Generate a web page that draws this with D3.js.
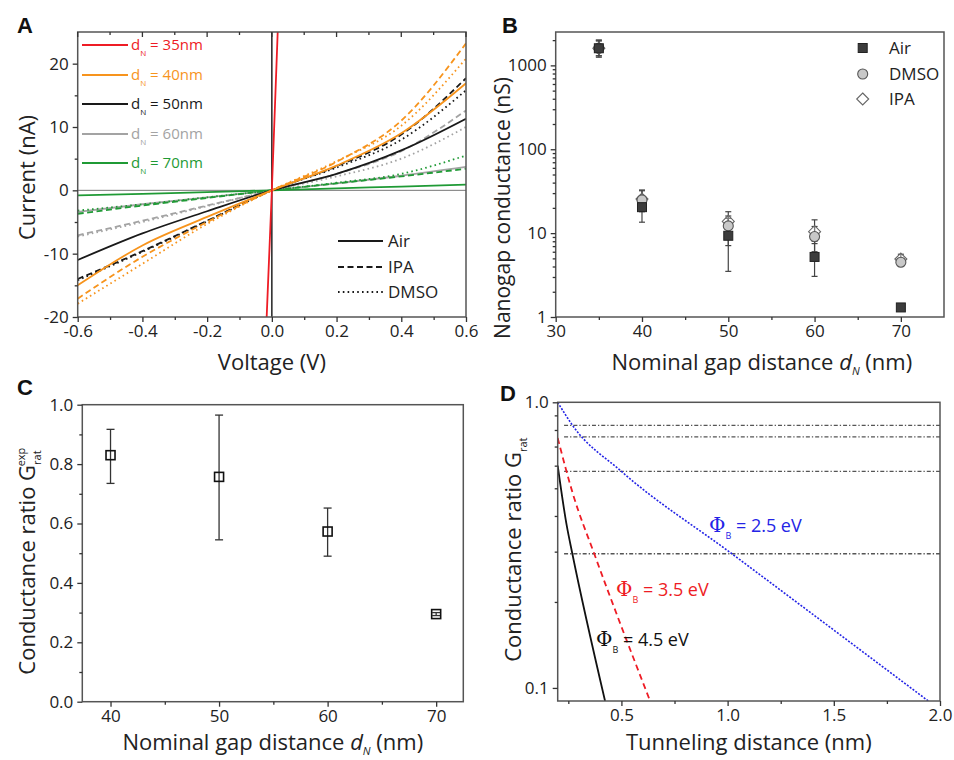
<!DOCTYPE html>
<html><head><meta charset="utf-8">
<script src="https://cdn.jsdelivr.net/npm/d3@7"></script>
<style>
body{margin:0;background:#fff;}
svg{font-family:"Open Sans",sans-serif;}
</style></head>
<body><svg id="c" width="954" height="760"></svg>
<script>
// ---------- Panel A data ----------
const voltages = [-0.6, -0.4, -0.2, 0, 0.2, 0.4, 0.6];
const voltages35 = [-0.6, 0, 0.6];
const iv35Air  = [-750, 0, 830];
const iv40Air  = [-15.0, -8.7, -4.2, 0, 3.9, 9.0, 16.9];
const iv40IPA  = [-17.1, -10.5, -5.0, 0, 4.5, 11.0, 23.2];
const iv40DMSO = [-17.9, -11.6, -5.3, 0, 4.6, 10.2, 20.8];
const iv50Air  = [-11.0, -6.8, -3.3, 0, 2.6, 6.3, 11.3];
const iv50IPA  = [-14.0, -9.6, -4.8, 0, 3.8, 8.8, 17.7];
const iv50DMSO = [-14.2, -9.7, -4.9, 0, 3.6, 8.0, 15.8];
const iv60Air  = [-3.4, -2.2, -1.1, 0, 1.1, 2.3, 3.7];
const iv60IPA  = [-7.1, -4.8, -2.4, 0, 2.6, 6.2, 12.6];
const iv60DMSO = [-7.3, -5.0, -2.5, 0, 2.2, 5.0, 10.0];
const iv70Air  = [-0.8, -0.55, -0.27, 0, 0.3, 0.6, 0.9];
const iv70IPA  = [-3.7, -2.4, -1.2, 0, 1.1, 2.2, 3.4];
const iv70DMSO = [-3.2, -2.2, -1.1, 0, 1.2, 2.6, 5.5];
const gapLabels = ["35nm", "40nm", "50nm", "60nm", "70nm"];
const mediumLabels = ["Air", "IPA", "DMSO"];

// ---------- Panel B data ----------
const gapB = [35, 40, 50, 60, 70];
const gAir  = [1600, 20.4, 9.3, 5.2, 1.3];
const gAirLo = [1250, 13.5, 3.5, 3.05, 1.2];
const gAirHi = [2000, 28, 15, 8, 1.4];
const gDMSO  = [1600, 24.9, 12.2, 9.1, 4.5];
const gDMSOLo = [1300, 18, 7.1, 6, 4.1];
const gDMSOHi = [1950, 32, 16, 12, 5.0];
const gIPA  = [1600, 25.5, 13.8, 10.4, 4.9];
const gIPALo = [1300, 20, 9, 7.5, 4.3];
const gIPAHi = [2000, 32.7, 18, 14.4, 5.6];
const legendB = ["Air", "DMSO", "IPA"];

// ---------- Panel C data ----------
const gapC = [40, 50, 60, 70];
const ratio = [0.83, 0.757, 0.573, 0.295];
const ratioLo = [0.735, 0.545, 0.49, 0.29];
const ratioHi = [0.917, 0.965, 0.652, 0.30];

// ---------- Panel D data ----------
const dBlue = [0.2, 0.27, 0.5, 1.02, 1.945];
const gBlue = [1.0, 0.83, 0.573, 0.295, 0.09];
const dRed = [0.2, 0.273, 0.372, 0.635];
const gRed = [0.75, 0.474, 0.295, 0.09];
const dBlack = [0.2, 0.242, 0.269, 0.423];
const gBlack = [0.60, 0.372, 0.295, 0.09];
const barrierLabels = ["2.5 eV", "3.5 eV", "4.5 eV"];

// ---------- helpers ----------
const svg = d3.select("#c");
const AX = "#333", FR = "#555";
const TICK_FS = 17, TITLE_FS = 22;
const fmtH = f => v => d3.format(f)(v).replace("\u2212", "-");

function frame(g, L, R, T, B) {
  g.append("rect").attr("x", L).attr("y", T).attr("width", R - L).attr("height", B - T)
    .attr("fill", "none").attr("stroke", FR).attr("stroke-width", 1.5);
}
function styleAxis(sel) {
  sel.select(".domain").remove();
  sel.selectAll("line").attr("stroke", AX).attr("stroke-width", 1.3);
  sel.selectAll("text").attr("font-size", TICK_FS).attr("fill", "#222").attr("font-family", "Open Sans");
}
function xAxes(g, x, B, major, minor, fmt) {
  const a = g.append("g").attr("transform", `translate(0,${B})`)
    .call(d3.axisBottom(x).tickValues(major).tickSize(5).tickPadding(3).tickFormat(fmt));
  styleAxis(a);
  const m = g.append("g").attr("transform", `translate(0,${B})`)
    .call(d3.axisBottom(x).tickValues(minor).tickSize(3).tickFormat(""));
  styleAxis(m);
}
function yAxes(g, y, L, major, minor, fmt) {
  const a = g.append("g").attr("transform", `translate(${L},0)`)
    .call(d3.axisLeft(y).tickValues(major).tickSize(5).tickPadding(4).tickFormat(fmt));
  styleAxis(a);
  const m = g.append("g").attr("transform", `translate(${L},0)`)
    .call(d3.axisLeft(y).tickValues(minor).tickSize(3).tickFormat(""));
  styleAxis(m);
}
function panelLetter(t, x, y) {
  svg.append("text").attr("x", x).attr("y", y).text(t).attr("font-size", 22)
    .attr("font-weight", "bold").attr("font-family", "Arial, Liberation Sans").attr("fill", "#111");
}
function title(g, x, y, txt, rotate, fs) {
  return g.append("text").attr("transform", rotate ? `translate(${x},${y}) rotate(-90)` : `translate(${x},${y})`)
    .attr("text-anchor", "middle").attr("font-size", fs || TITLE_FS).attr("fill", "#222").text(txt);
}
function gapTitle(g, x, y) {
  const xt = g.append("text").attr("x", x).attr("y", y).attr("text-anchor", "middle")
    .attr("font-size", TITLE_FS).attr("fill", "#222");
  xt.append("tspan").text("Nominal gap distance ");
  xt.append("tspan").text("d").attr("font-style", "italic");
  xt.append("tspan").text("N").attr("font-style", "italic").attr("font-size", 11).attr("dy", 5);
  xt.append("tspan").text(" (nm)").attr("dy", -5);
}

// =================== Panel A ===================
{
  const L = 77.7, R = 466, T = 32, B = 317;
  const x = d3.scaleLinear().domain([-0.6, 0.6]).range([L, R]);
  const y = d3.scaleLinear().domain([-20, 25]).range([B, T]);
  const g = svg.append("g");
  g.append("clipPath").attr("id", "clipA").append("rect")
    .attr("x", L).attr("y", T).attr("width", R - L).attr("height", B - T);
  const p = g.append("g").attr("clip-path", "url(#clipA)");
  p.append("line").attr("x1", L).attr("x2", R).attr("y1", y(0)).attr("y2", y(0))
    .attr("stroke", "#777").attr("stroke-width", 1);
  p.append("line").attr("x1", x(0)).attr("x2", x(0)).attr("y1", T).attr("y2", B)
    .attr("stroke", "#222").attr("stroke-width", 1.5);
  const colors = { "35": "#ee1c25", "40": "#f7941d", "50": "#1a1a1a", "60": "#a3a3a3", "70": "#1f9a35" };
  const dash = { Air: null, IPA: "6,3.5", DMSO: "1.6,3.2" };
  const line = d3.line().x(d => x(d[0])).y(d => y(d[1])).curve(d3.curveMonotoneX);
  const series = [
    ["60", "IPA", iv60IPA], ["60", "DMSO", iv60DMSO], ["60", "Air", iv60Air],
    ["70", "IPA", iv70IPA], ["70", "DMSO", iv70DMSO], ["70", "Air", iv70Air],
    ["50", "IPA", iv50IPA], ["50", "DMSO", iv50DMSO], ["50", "Air", iv50Air],
    ["40", "IPA", iv40IPA], ["40", "DMSO", iv40DMSO], ["40", "Air", iv40Air]
  ];
  series.forEach(([gap, med, vals]) => {
    p.append("path").attr("d", line(voltages.map((v, i) => [v, vals[i]])))
      .attr("fill", "none").attr("stroke", colors[gap]).attr("stroke-width", 1.8)
      .attr("stroke-dasharray", dash[med]);
  });
  p.append("path").attr("d", d3.line().x(d => x(d[0])).y(d => y(d[1]))(voltages35.map((v, i) => [v, iv35Air[i]])))
    .attr("fill", "none").attr("stroke", colors["35"]).attr("stroke-width", 1.8);

  frame(g, L, R, T, B);
  xAxes(g, x, B, d3.range(-0.6, 0.61, 0.2), d3.range(-0.5, 0.6, 0.2), fmtH(".1f"));
  yAxes(g, y, L, [-20, -10, 0, 10, 20], [-15, -5, 5, 15], d => String(d));
  g.selectAll(".tt").data(d3.range(-0.6, 0.61, 0.1)).join("line")
    .attr("x1", d => x(d)).attr("x2", d => x(d)).attr("y1", T).attr("y2", d => T + (Math.round(d * 10) % 2 === 0 ? 5 : 3))
    .attr("stroke", AX).attr("stroke-width", 1.3);

  const gapKeys = ["35", "40", "50", "60", "70"];
  const rowsY = [45, 75, 104, 134, 163];
  gapKeys.forEach((k, i) => {
    g.append("line").attr("x1", 82).attr("x2", 128).attr("y1", rowsY[i]).attr("y2", rowsY[i])
      .attr("stroke", colors[k]).attr("stroke-width", 1.8);
    const t = g.append("text").attr("x", 131).attr("y", rowsY[i] + 5).attr("font-size", 15)
      .attr("fill", colors[k]);
    t.append("tspan").text("d");
    t.append("tspan").text("N").attr("font-size", 8).attr("dy", 6);
    t.append("tspan").text(" = " + gapLabels[i]).attr("dy", -6);
  });
  const medY = [241, 267, 292];
  mediumLabels.forEach((m, i) => {
    g.append("line").attr("x1", 338).attr("x2", 383).attr("y1", medY[i]).attr("y2", medY[i])
      .attr("stroke", "#1a1a1a").attr("stroke-width", 1.8).attr("stroke-dasharray", dash[m]);
    g.append("text").attr("x", 388).attr("y", medY[i] + 6).text(m).attr("font-size", 17).attr("fill", "#222");
  });
  title(g, (L + R) / 2, 370, "Voltage (V)", false);
  title(g, 35, (T + B) / 2 + 3, "Current (nA)", true);
  panelLetter("A", 17, 33);
}

// =================== Panel B ===================
{
  const L = 555.7, R = 944, T = 32, B = 317;
  const x = d3.scaleLinear().domain([30, 75]).range([L, R]);
  const y = d3.scaleLog().domain([1, 2500]).range([B, T]);
  const g = svg.append("g");
  frame(g, L, R, T, B);
  xAxes(g, x, B, [30, 40, 50, 60, 70], [35, 45, 55, 65], d => String(d));
  const minorLog = [];
  [1, 10, 100, 1000].forEach(dec => { for (let k = 2; k <= 9; k++) if (dec * k < 2500) minorLog.push(dec * k); });
  yAxes(g, y, L, [1, 10, 100, 1000], minorLog, d => String(d));

  const sets = [
    { v: gIPA, lo: gIPALo, hi: gIPAHi, shape: "diamond" },
    { v: gDMSO, lo: gDMSOLo, hi: gDMSOHi, shape: "circle" },
    { v: gAir, lo: gAirLo, hi: gAirHi, shape: "square" }
  ];
  sets.forEach(s => {
    gapB.forEach((d, i) => {
      const cx = x(d);
      g.append("line").attr("x1", cx).attr("x2", cx).attr("y1", y(s.lo[i])).attr("y2", y(s.hi[i]))
        .attr("stroke", "#444").attr("stroke-width", 1.2);
      [s.lo[i], s.hi[i]].forEach(e => g.append("line").attr("x1", cx - 3).attr("x2", cx + 3)
        .attr("y1", y(e)).attr("y2", y(e)).attr("stroke", "#444").attr("stroke-width", 1.2));
    });
  });
  function marker(sel, shape, cx, cy) {
    if (shape === "square") sel.append("rect").attr("x", cx - 4.5).attr("y", cy - 4.5).attr("width", 9).attr("height", 9)
      .attr("fill", "#3c3c3c").attr("stroke", "#222").attr("stroke-width", 1);
    else if (shape === "circle") sel.append("circle").attr("cx", cx).attr("cy", cy).attr("r", 5)
      .attr("fill", "#c8c8c8").attr("stroke", "#555").attr("stroke-width", 1.1);
    else sel.append("path").attr("d", `M${cx},${cy - 6}L${cx + 6},${cy}L${cx},${cy + 6}L${cx - 6},${cy}Z`)
      .attr("fill", "#fff").attr("fill-opacity", 0.3).attr("stroke", "#666").attr("stroke-width", 1.1);
  }
  sets.forEach(s => gapB.forEach((d, i) => marker(g, s.shape, x(d), y(s.v[i]))));
  const ly = [48, 74, 99];
  const shapes = ["square", "circle", "diamond"];
  legendB.forEach((t, i) => {
    marker(g, shapes[i], 862.7, ly[i]);
    g.append("text").attr("x", 889).attr("y", ly[i] + 6).text(t).attr("font-size", 17).attr("fill", "#222");
  });
  gapTitle(g, (L + R) / 2 + 12, 370);
  title(g, 510, 208, "Nanogap conductance (nS)", true, 21);
  panelLetter("B", 502, 33);
}

// =================== Panel C ===================
{
  const L = 82.3, R = 463.3, T = 404.7, B = 701.7;
  const x = d3.scaleLinear().domain([37.4, 72.5]).range([L, R]);
  const y = d3.scaleLinear().domain([0, 1]).range([B, T]);
  const g = svg.append("g");
  frame(g, L, R, T, B);
  xAxes(g, x, B, [40, 50, 60, 70], [45, 55, 65], d => String(d));
  yAxes(g, y, L, d3.range(0, 1.01, 0.2), d3.range(0.1, 1, 0.2), d3.format(".1f"));
  gapC.forEach((d, i) => {
    const cx = x(d);
    g.append("line").attr("x1", cx).attr("x2", cx).attr("y1", y(ratioLo[i])).attr("y2", y(ratioHi[i]))
      .attr("stroke", "#333").attr("stroke-width", 1.3);
    [ratioLo[i], ratioHi[i]].forEach(e => g.append("line").attr("x1", cx - 4).attr("x2", cx + 4)
      .attr("y1", y(e)).attr("y2", y(e)).attr("stroke", "#333").attr("stroke-width", 1.3));
    g.append("rect").attr("x", cx - 4.5).attr("y", y(ratio[i]) - 4.5).attr("width", 9).attr("height", 9)
      .attr("fill", "none").attr("stroke", "#111").attr("stroke-width", 1.6);
  });
  gapTitle(g, (L + R) / 2, 750);
  const yt = g.append("text").attr("transform", `translate(35,${(T + B) / 2 + 8}) rotate(-90)`).attr("text-anchor", "middle")
    .attr("font-size", TITLE_FS).attr("fill", "#222");
  yt.append("tspan").text("Conductance ratio G");
  yt.append("tspan").text("rat").attr("font-size", 11).attr("dy", 6);
  yt.append("tspan").text("exp").attr("font-size", 11).attr("dy", -16).attr("dx", -16);
  panelLetter("C", 17, 395);
}

// =================== Panel D ===================
{
  const L = 557.7, R = 940, T = 402.3, B = 701;
  const x = d3.scaleLinear().domain([0.2, 2.0]).range([L, R]);
  const y = d3.scaleLog().domain([0.09, 1.0]).range([B, T]);
  const g = svg.append("g");
  g.append("clipPath").attr("id", "clipD").append("rect")
    .attr("x", L).attr("y", T).attr("width", R - L).attr("height", B - T);
  const p = g.append("g").attr("clip-path", "url(#clipD)");
  ratio.forEach(r => p.append("line").attr("x1", x(0.23)).attr("x2", R).attr("y1", y(r)).attr("y2", y(r))
    .attr("stroke", "#555").attr("stroke-width", 1.3).attr("stroke-dasharray", "4,2,1.3,2"));
  const line = d3.line().x(d => x(d[0])).y(d => y(d[1])).curve(d3.curveMonotoneX);
  p.append("path").attr("d", line(dBlue.map((d, i) => [d, gBlue[i]]))).attr("fill", "none")
    .attr("stroke", "#2424e6").attr("stroke-width", 1.6).attr("stroke-dasharray", "2,1.5");
  p.append("path").attr("d", line(dRed.map((d, i) => [d, gRed[i]]))).attr("fill", "none")
    .attr("stroke", "#ee1c25").attr("stroke-width", 1.8).attr("stroke-dasharray", "6,4");
  p.append("path").attr("d", line(dBlack.map((d, i) => [d, gBlack[i]]))).attr("fill", "none")
    .attr("stroke", "#111").attr("stroke-width", 1.8);
  frame(g, L, R, T, B);
  xAxes(g, x, B, [0.5, 1.0, 1.5, 2.0], [0.25, 0.75, 1.25, 1.75], d3.format(".1f"));
  yAxes(g, y, L, [0.1, 1.0], [0.2, 0.3, 0.4, 0.5, 0.6, 0.7, 0.8, 0.9], d3.format(".1f"));
  const labs = [
    { t: barrierLabels[0], x: 709, y: 532, c: "#2424e6" },
    { t: barrierLabels[1], x: 616, y: 596, c: "#ee1c25" },
    { t: barrierLabels[2], x: 596, y: 646, c: "#111" }
  ];
  labs.forEach(l => {
    const t = g.append("text").attr("x", l.x).attr("y", l.y).attr("font-size", 18).attr("fill", l.c);
    t.append("tspan").text("\u03A6").attr("font-family", "DejaVu Serif").attr("font-size", 20);
    t.append("tspan").text("B").attr("font-size", 9).attr("dy", 7);
    t.append("tspan").text(" = " + l.t).attr("dy", -7);
  });
  title(g, (L + R) / 2, 750, "Tunneling distance (nm)", false);
  const yt = g.append("text").attr("transform", `translate(521,${(T + B) / 2 - 2}) rotate(-90)`).attr("text-anchor", "middle")
    .attr("font-size", TITLE_FS).attr("fill", "#222");
  yt.append("tspan").text("Conductance ratio G");
  yt.append("tspan").text("rat").attr("font-size", 11).attr("dy", 6);
  panelLetter("D", 500, 401);
}
</script></body></html>
